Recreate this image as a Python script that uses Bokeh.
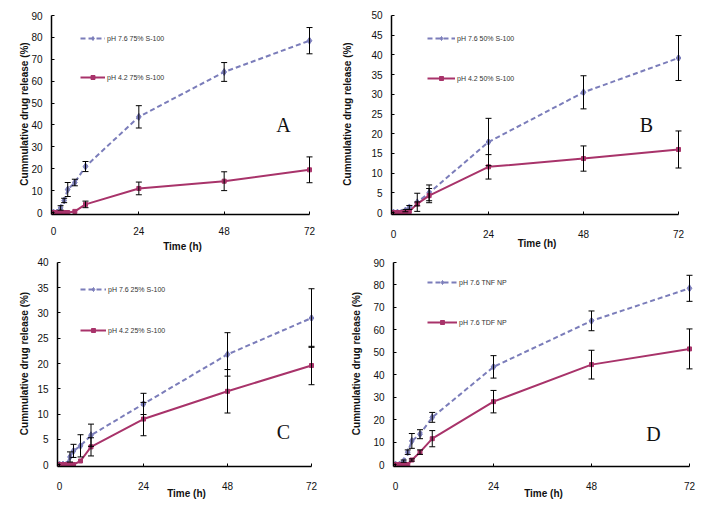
from bokeh.plotting import figure
from bokeh.models import (ColumnDataSource, Whisker, TeeHead, Legend, LegendItem,
                          Label, Range1d, FixedTicker)
from bokeh.layouts import column, row
from bokeh.embed import file_html
from bokeh.resources import INLINE

# ---------------- data ----------------
time_h = [0, 1, 2, 3, 4, 6, 9, 24, 48, 72]
x_ticks = [0, 24, 48, 72]

a_hi = [0, 0, 2.1, 5.5, 10.5, 13.7, 21.0, 43.7, 64.2, 78.5]
a_hi_err = [0, 0, 1.0, 1.0, 3.2, 1.5, 2.3, 5.1, 4.3, 6.0]
a_lo = [0, 0, 0, 0, 0, 0.5, 3.7, 11.0, 14.3, 19.5]
a_lo_err = [0, 0, 0, 0, 0, 0, 1.5, 2.9, 4.3, 5.9]

b_hi = [0, 0, 0, 0.5, 1.3, 2.6, 5.0, 17.9, 30.5, 39.2]
b_hi_err = [0, 0, 0, 0.3, 0.5, 2.3, 2.0, 6.0, 4.2, 5.7]
b_lo = [0, 0, 0, 0, 0.3, 2.2, 4.3, 11.6, 13.7, 16.0]
b_lo_err = [0, 0, 0, 0, 0, 0.5, 1.8, 3.1, 3.2, 4.7]

c_hi = [0, 0, 0, 1.5, 2.7, 3.7, 5.8, 12.0, 21.8, 29.0]
c_hi_err = [0, 0, 0, 1.0, 1.3, 2.2, 2.2, 2.1, 4.3, 5.8]
c_lo = [0, 0, 0, 0, 0, 0.7, 3.5, 9.0, 14.5, 19.6]
c_lo_err = [0, 0, 0, 0, 0, 0, 1.8, 3.3, 4.3, 3.8]

d_hi = [0, 0, 1.5, 5.5, 10.5, 13.5, 21.0, 43.5, 64.0, 78.5]
d_hi_err = [0, 0, 0.5, 1.0, 3.3, 2.0, 2.2, 5.0, 4.4, 5.8]
d_lo = [0, 0, 0, 0, 2.0, 5.5, 11.5, 28.0, 44.5, 51.5]
d_lo_err = [0, 0, 0, 0, 0.5, 1.0, 3.6, 5.0, 6.4, 8.9]

BLUE = "#7B7DBA"
RED = "#A8336A"
FONT = "Liberation Sans"


def panel(fig_box, axis_box, ymax, ystep, hi, hi_err, lo, lo_err,
          names, letter, letter_pos, leg,
          ylab_standoff=8, xtick_standoff=12, xlab_standoff=4):
    fl, fr, ft, fb = fig_box
    ax0, ax72, ay0, aytop = axis_box
    pad_l, pad_r, pad_t, pad_b = 2, 4, 2, 2
    ppx = (ax72 - ax0) / 72.0
    ppy = (ay0 - aytop) / float(ymax)
    x0 = -pad_l / ppx
    y0 = -pad_b / ppy
    p = figure(width=fr - fl, height=fb - ft, output_backend="svg",
               toolbar_location=None,
               x_range=Range1d(x0, 72 + pad_r / ppx),
               y_range=Range1d(y0, ymax + pad_t / ppy),
               min_border_left=ax0 - pad_l - fl,
               min_border_right=fr - (ax72 + pad_r),
               min_border_top=(aytop - pad_t) - ft,
               min_border_bottom=fb - (ay0 + pad_b))
    p.outline_line_color = None
    p.grid.visible = False
    p.background_fill_color = "white"

    for ax in (p.xaxis[0], p.yaxis[0]):
        ax.axis_line_color = "black"
        ax.axis_line_width = 1.5
        ax.major_tick_line_color = "black"
        ax.major_tick_in = 3
        ax.major_tick_out = 0
        ax.minor_tick_line_color = None
        ax.major_label_text_font = FONT
        ax.major_label_text_font_size = "10px"
        ax.major_label_text_color = "#111111"
        ax.axis_label_text_font = FONT
        ax.axis_label_text_font_size = "10px"
        ax.axis_label_text_font_style = "bold"
        ax.axis_label_text_color = "#111111"

    p.xaxis.ticker = FixedTicker(ticks=x_ticks)
    p.xaxis.bounds = (x0, 72)
    p.xaxis.axis_label = "Time (h)"
    p.xaxis.major_label_standoff = xtick_standoff
    p.xaxis.axis_label_standoff = xlab_standoff

    p.yaxis.ticker = FixedTicker(ticks=list(range(0, ymax + 1, ystep)))
    p.yaxis.bounds = (y0, ymax)
    p.yaxis.axis_label = "Cummulative drug release (%)"
    p.yaxis.major_label_standoff = 9
    p.yaxis.axis_label_standoff = ylab_standoff

    items = []
    for vals, errs, color, dash, marker, msize, name in (
            (hi, hi_err, BLUE, "5 3", "diamond", 7, names[0]),
            (lo, lo_err, RED, "solid", "square", 4, names[1])):
        src = ColumnDataSource(dict(t=time_h, v=vals))
        ln = p.line("t", "v", source=src, line_color=color, line_width=2,
                    line_dash=dash)
        mk = p.scatter("t", "v", source=src, marker=marker, size=msize,
                       fill_color=color, line_color=color)
        et = [t for t, e in zip(time_h, errs) if e > 0]
        eu = [v + e for v, e in zip(vals, errs) if e > 0]
        el = [v - e for v, e in zip(vals, errs) if e > 0]
        esrc = ColumnDataSource(dict(t=et, up=eu, lo=el))
        w = Whisker(source=esrc, base="t", upper="up", lower="lo",
                    dimension="height", line_color="black", line_width=1,
                    upper_head=TeeHead(size=6, line_color="black", line_width=1),
                    lower_head=TeeHead(size=6, line_color="black", line_width=1))
        w.level = "overlay"
        p.add_layout(w)
        items.append(LegendItem(label=name, renderers=[ln, mk]))

    lx, ly, spacing, gw = leg
    legend = Legend(items=items, location=(lx, ly), spacing=spacing,
                    glyph_width=gw, glyph_height=10, label_height=10,
                    label_standoff=2, padding=0, margin=0,
                    border_line_color=None, background_fill_alpha=0,
                    label_text_font=FONT, label_text_font_size="7px",
                    label_text_color="#333333")
    p.add_layout(legend)

    sx, sy = letter_pos
    lxd = (sx - ax0) / ppx
    lyd = (ay0 - sy) / ppy
    p.add_layout(Label(x=lxd, y=lyd, text=letter, text_font="Liberation Serif",
                       text_font_size="20px", text_align="center",
                       text_baseline="middle", text_color="#111111"))
    return p


pa = panel((0, 336, 0, 256), (53, 309, 212, 15), 90, 10,
           a_hi, a_hi_err, a_lo, a_lo_err,
           ("pH 7.6 75% S-100", "pH 4.2 75% S-100"), "A", (283, 124),
           (29, 132, 29, 25), ylab_standoff=-2, xtick_standoff=12, xlab_standoff=3)
pb = panel((336, 722, 0, 256), (393, 678, 215, 11), 50, 5,
           b_hi, b_hi_err, b_lo, b_lo_err,
           ("pH 7.6 50% S-100", "pH 4.2 50% S-100"), "B", (646, 124),
           (36, 131, 30, 28), ylab_standoff=15, xtick_standoff=15, xlab_standoff=-3)
pc = panel((0, 340, 256, 507), (59, 311, 464, 259), 40, 5,
           c_hi, c_hi_err, c_lo, c_lo_err,
           ("pH 7.6 25% S-100", "pH 4.2 25% S-100"), "C", (283, 431),
           (23, 131, 31, 26), ylab_standoff=4, xtick_standoff=15, xlab_standoff=-5)
pd = panel((340, 722, 256, 507), (395, 689, 464, 262), 90, 10,
           d_hi, d_hi_err, d_lo, d_lo_err,
           ("pH 7.6 TNF NP", "pH 7.6 TDF NP"), "D", (653, 433),
           (34, 139, 30, 30), ylab_standoff=8, xtick_standoff=15, xlab_standoff=-5)

layout = column(row(pa, pb, spacing=0), row(pc, pd, spacing=0), spacing=0)

open("out.html", "w").write(file_html(layout, INLINE))
